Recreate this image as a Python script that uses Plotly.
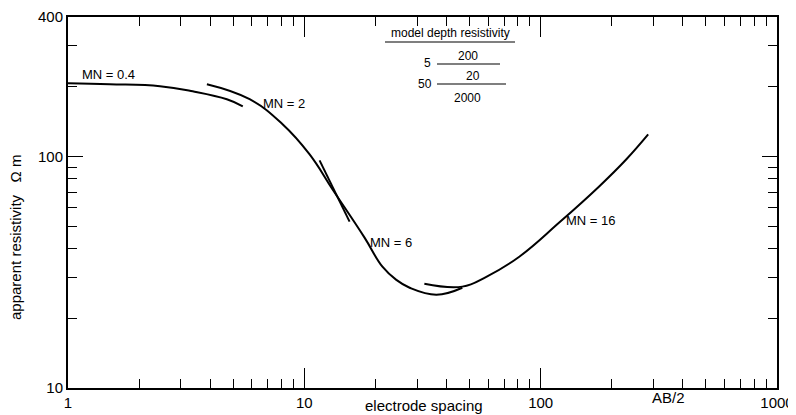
import plotly.graph_objects as go

# ---- data ----
mn04_x = [1.0, 1.5, 2.45, 3.37, 4.70, 5.49]
mn04_y = [207, 205, 201, 191, 176.5, 164.6]

mn2_x = [3.87, 5.87, 8.09, 10.53, 13.17, 17.98, 21.4, 24.5, 27.9, 36.2, 46.6]
mn2_y = [205, 176.6, 137.7, 102, 72, 44.6, 33.4, 29.3, 27.1, 25.3, 27.1]

mn6_x = [11.6, 15.54]
mn6_y = [96.1, 52.3]

mn16_x = [32.2, 46.6, 58.9, 81.2, 119.8, 176.8, 230, 285]
mn16_y = [28.2, 27.4, 30.2, 36.9, 51.8, 74.2, 97, 124.5]

x_tickvals = [1, 10, 100, 1000]
x_ticktext = ["1", "10", "100", "1000"]
y_tickvals = [10, 100, 400]
y_ticktext = ["10", "100", "400"]
x_minor = [m * d for d in (1, 10, 100) for m in range(2, 10)]
y_minor = [20, 30, 40, 50, 60, 70, 80, 90, 200, 300]

FONT = "Liberation Sans, Arial, Helvetica, sans-serif"
OFF = 8  # page body margin
W, H = 796 - OFF, 415 - OFF
L, R, T, B = 60, 19, 9, 27
PW, PH = W - L - R, H - T - B
X0 = OFF + L          # page x of plot left edge
Y1 = OFF + H - B      # page y of plot bottom edge


def px(x):
    return (x - X0) / PW


def py(y):
    return (Y1 - y) / PH


fig = go.Figure()
for xs, ys in [(mn04_x, mn04_y), (mn2_x, mn2_y), (mn6_x, mn6_y), (mn16_x, mn16_y)]:
    fig.add_trace(go.Scatter(x=xs, y=ys, mode="lines",
                             line=dict(color="black", width=2, shape="spline", smoothing=1.2),
                             showlegend=False, hoverinfo="skip"))

ann = []


def text(x, y, s, size=13, **kw):
    ann.append(dict(x=px(x), y=py(y), xref="paper", yref="paper", text=s, showarrow=False,
                    xanchor="center", yanchor="middle",
                    font=dict(family=FONT, size=size, color="black"), **kw))


text(108, 75, "MN = 0.4", 13)
text(284, 103, "MN = 2", 13)
text(391, 242, "MN = 6", 13)
text(591, 220, "MN = 16", 13)
text(450, 33, "model depth resistivity", 12)
text(427, 63, "5", 12)
text(468, 56, "200", 12)
text(425, 84, "50", 12)
text(473, 76, "20", 12)
text(467, 98, "2000", 12)
text(668, 397, "AB/2", 15)
text(424, 405, "electrode spacing", 15)
text(15, 238, "apparent resistivity   \u03a9 m", 15, textangle=-90)

shapes = [
    dict(type="line", xref="paper", yref="paper", x0=px(385), x1=px(515), y0=py(42), y1=py(42),
         line=dict(color="black", width=1.2)),
    dict(type="line", xref="paper", yref="paper", x0=px(437), x1=px(500), y0=py(64), y1=py(64),
         line=dict(color="black", width=1.2)),
    dict(type="line", xref="paper", yref="paper", x0=px(437), x1=px(506), y0=py(84), y1=py(84),
         line=dict(color="black", width=1.2)),
]

axis_common = dict(showgrid=False, zeroline=False, showline=True, linecolor="black", linewidth=2,
                   mirror="ticks", ticks="inside", tickcolor="black", tickwidth=1.3, automargin=False,
                   tickfont=dict(family=FONT, size=15, color="black"))

fig.update_layout(
    width=W, height=H,
    margin=dict(l=L, r=R, t=T, b=B),
    paper_bgcolor="white", plot_bgcolor="white",
    xaxis=dict(type="log", range=[0, 3], tickmode="array", tickvals=x_tickvals, ticktext=x_ticktext,
               ticklen=20,
               minor=dict(tickmode="array", tickvals=x_minor, ticks="inside", ticklen=9,
                          tickcolor="black", tickwidth=1.3),
               **axis_common),
    yaxis=dict(type="log", range=[1, 2.60206], tickmode="array", tickvals=y_tickvals, ticktext=y_ticktext,
               ticklen=15,
               minor=dict(tickmode="array", tickvals=y_minor, ticks="inside", ticklen=9,
                          tickcolor="black", tickwidth=1.3),
               **axis_common),
    annotations=ann,
    shapes=shapes,
)

fig.write_html("out.html")
